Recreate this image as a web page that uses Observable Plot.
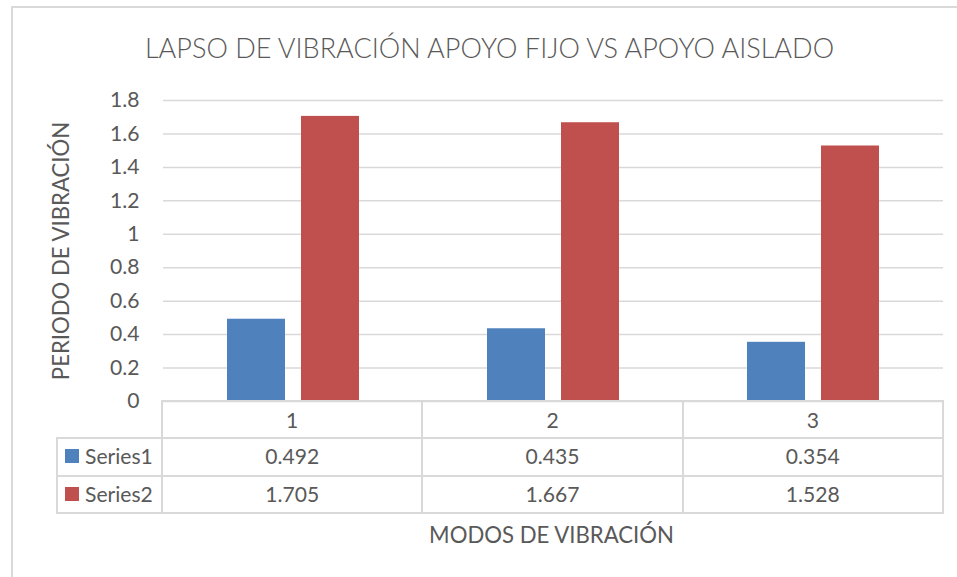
<!DOCTYPE html>
<html>
<head>
<meta charset="utf-8">
<script src="https://cdn.jsdelivr.net/npm/d3@7"></script>
<script src="https://cdn.jsdelivr.net/npm/@observablehq/plot@0.6"></script>
<style>
  body { margin: 0; background: #fff; }
  #wrap { position: relative; width: 957px; height: 577px; overflow: hidden; background: #fff;
          font-family: Lato, "Open Sans", sans-serif; color: #595959; }
  .pt { position: absolute; width: 0; height: 0; }
  .tx { position: absolute; left: 0; top: 0; white-space: nowrap; transform-origin: 0 0; }
  .ln { position: absolute; background: #D9D9D9; }
  #plot { position: absolute; left: 0; top: 0; }
</style>
</head>
<body>
<div id="wrap"><div id="frame" style="position:absolute;left:11px;top:6px;width:1000px;height:1000px;border-left:2px solid #D9D9D9;border-top:2px solid #D9D9D9;"></div><div id="plot"></div></div>
<script>
// ---- data ----
const title = "LAPSO DE VIBRACIÓN APOYO FIJO VS APOYO AISLADO";
const yTitle = "PERIODO DE VIBRACIÓN";
const xTitle = "MODOS DE VIBRACIÓN";
const modes = ["1", "2", "3"];
const seriesNames = ["Series1", "Series2"];
const series1 = [0.492, 0.435, 0.354];
const series2 = [1.705, 1.667, 1.528];
const yTicks = [0, 0.2, 0.4, 0.6, 0.8, 1, 1.2, 1.4, 1.6, 1.8];
const colors = ["#4F81BD", "#C0504D"];

const seriesValues = [series1, series2];
const rows = modes.flatMap((m, i) => seriesNames.map((s, j) => ({mode: m, series: s, value: seriesValues[j][i]})));

// fit font sizes to the reference text widths
const ctx = document.createElement("canvas").getContext("2d");
function fit(text, weight, target) {
  ctx.font = `${weight} 100px Lato`;
  return 100 * target / ctx.measureText(text).width;
}
const titleSize = fit(title, 300, 694);
const axisTitleSize = (fit(yTitle, 400, 258) + fit(xTitle, 400, 247)) / 2;
const tickSize = fit("0.492", 400, 53);
const seriesSize = fit("Series1", 400, 69);
const tableSize = (tickSize + seriesSize) / 2;

const fmt = d3.format(".1~f");

const chart = Plot.plot({
  width: 957,
  height: 420,
  marginTop: 100,
  marginBottom: 19,
  marginLeft: 162,
  marginRight: 14,
  style: {fontFamily: "Lato, 'Open Sans', sans-serif", fontSize: tableSize + "px", color: "#595959", background: "transparent", overflow: "visible"},
  facet: {data: rows, x: "mode"},
  fx: {domain: modes, padding: 0, axis: null},
  x: {domain: seriesNames, paddingInner: 0.21, paddingOuter: 0.86, axis: null},
  y: {domain: [0, 1.8], ticks: yTicks, tickSize: 0, tickPadding: 24, tickFormat: fmt, label: null},
  color: {domain: seriesNames, range: colors},
  marks: [
    Plot.ruleY(yTicks, {stroke: "#D9D9D9", strokeWidth: 1.5}),
    Plot.barY(rows, {x: "series", y: "value", fill: "series"})
  ]
});
document.getElementById("plot").appendChild(chart);

const wrap = document.getElementById("wrap");

function label(text, cx, cy, size, opts = {}) {
  const {weight = 400, anchor = "middle", rotate = 0} = opts;
  const pt = document.createElement("div");
  pt.className = "pt";
  pt.style.left = cx + "px";
  pt.style.top = cy + "px";
  const t = document.createElement("div");
  t.className = "tx";
  t.textContent = text;
  t.style.fontSize = size + "px";
  t.style.lineHeight = size + "px";
  t.style.fontWeight = weight;
  const tx = anchor === "middle" ? "-50%" : "0";
  t.style.transform = (rotate ? `rotate(${rotate}deg) ` : "") + `translate(${tx}, -52.9%)`;
  pt.appendChild(t);
  wrap.appendChild(pt);
}
function hline(x0, x1, y, w = 2) {
  const d = document.createElement("div");
  d.className = "ln";
  Object.assign(d.style, {left: x0 - w / 2 + "px", top: y - w / 2 + "px", width: (x1 - x0 + w) + "px", height: w + "px"});
  wrap.appendChild(d);
}
function vline(x, y0, y1, w = 2) {
  const d = document.createElement("div");
  d.className = "ln";
  Object.assign(d.style, {left: x - w / 2 + "px", top: y0 - w / 2 + "px", width: w + "px", height: (y1 - y0 + w) + "px"});
  wrap.appendChild(d);
}

// title and axis titles
label(title, 489.5, 48, titleSize, {weight: 300});
label(yTitle, 62, 251, axisTitleSize, {rotate: -90});
label(xTitle, 551.5, 536, axisTitleSize);

// data table aligned with the fx scale
const fxs = chart.scale("fx");
const ys = chart.scale("y");
const left = fxs.range[0], right = fxs.range[1];
const step = (right - left) / modes.length;
const y0 = ys.apply(0);
const rowY = [y0, y0 + 37, y0 + 74.5, y0 + 111.5];
const legendLeft = 57;

hline(left, right, rowY[0]);
for (let r = 1; r < rowY.length; r++) hline(legendLeft, right, rowY[r]);
vline(legendLeft, rowY[1], rowY[3]);
for (let i = 0; i <= modes.length; i++) vline(left + i * step, rowY[0], rowY[3]);

modes.forEach((m, i) => {
  const cx = left + (i + 0.5) * step;
  label(m, cx, (rowY[0] + rowY[1]) / 2, tableSize);
  seriesValues.forEach((vals, j) => {
    label(vals[i].toFixed(3), cx, (rowY[j + 1] + rowY[j + 2]) / 2 - 0.5, tableSize);
  });
});
seriesNames.forEach((s, j) => {
  const cy = (rowY[j + 1] + rowY[j + 2]) / 2;
  const sq = document.createElement("div");
  Object.assign(sq.style, {position: "absolute", left: "65px", top: (cy - 7.5) + "px", width: "14px", height: "14px", background: colors[j]});
  wrap.appendChild(sq);
  label(s, 85, cy - 0.5, tableSize, {anchor: "start"});
});
</script>
</body>
</html>
